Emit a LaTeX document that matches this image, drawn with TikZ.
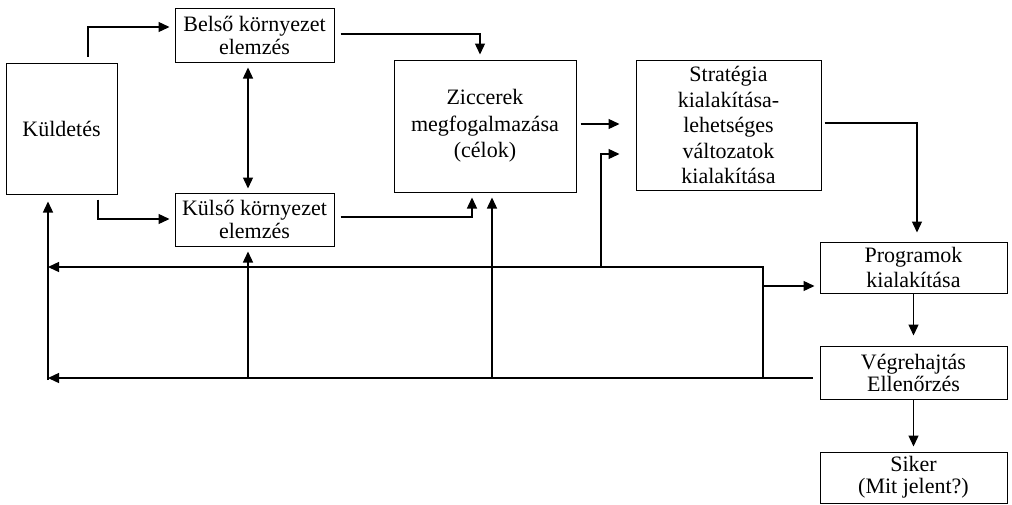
\documentclass[tikz,border=0pt]{standalone}
\usepackage{fontspec}
\setmainfont{Liberation Serif}
\usetikzlibrary{arrows.meta,calc}
\begin{document}
\begin{tikzpicture}[x=1pt,y=-1pt,
  box/.style={draw, line width=1pt, inner sep=0pt, align=center, font=\fontsize{22}{25.5}\selectfont},
  tight/.style={font=\fontsize{22}{23}\selectfont},
  ln/.style={line width=1.3pt},
  tip/.style={},
  arr/.style={ln, -{Triangle[length=11pt,width=10pt]}},
  darr/.style={ln, {Triangle[length=11pt,width=10pt]}-{Triangle[length=11pt,width=10pt]}},
]
\useasboundingbox (0,0) rectangle (1012,504);
% boxes
\node[box, minimum width=111pt, minimum height=131pt] (kul) at (61.5,128.5) {Küldetés};
\node[box, tight, minimum width=159pt, minimum height=54pt] (bel) at (254.5,35) {Belső környezet\\elemzés};
\node[box, tight, minimum width=159pt, minimum height=53pt] (kuls) at (254.5,219.5) {Külső környezet\\elemzés};
\node[box, font=\fontsize{22}{26.5}\selectfont, minimum width=182pt, minimum height=132pt] (zic) at (485,126) {Ziccerek\\megfogalmazása\\(célok)};
\node[box, minimum width=185pt, minimum height=130pt] (str) at (728.5,125) {Stratégia\\kialakítása-\\lehetséges\\változatok\\kialakítása};
\node[box, font=\fontsize{22}{25}\selectfont, minimum width=187pt, minimum height=51pt] (prog) at (913.5,267.5) {Programok\\kialakítása};
\node[box, font=\fontsize{22}{22}\selectfont, minimum width=187pt, minimum height=53pt] (vegr) at (913.5,372.5) {Végrehajtás\\Ellenőrzés};
\node[box, font=\fontsize{22}{22}\selectfont, minimum width=187pt, minimum height=51pt] (sik) at (913.5,477.5) {Siker\\(Mit jelent?)};
% helper coordinates
\coordinate (t1) at (88,27);
\coordinate (t2) at (480,34);
\coordinate (t3) at (98,219);
\coordinate (t4) at (472,217);
\coordinate (t5) at (0,124);
\coordinate (t6) at (917,123);
\coordinate (fbL) at (48,378);
\coordinate (fbM) at (48,267);
\coordinate (fbR) at (763,378);
\coordinate (pb) at (763,286);
\coordinate (sb) at (601,267);
\coordinate (sbt) at (601,154);
\coordinate (zb) at (492,378);
\coordinate (kb) at (248,378);
% forward connectors
\draw[arr, shorten <=6pt, shorten >=5pt] (kul.north -| t1) |- (bel.west |- t1);
\draw[arr, shorten <=6pt, shorten >=5pt] (bel.east |- t2) -| (zic.north -| t2);
\draw[darr, shorten <=5pt, shorten >=4pt] (bel.south -| kb) -- (kuls.north -| kb);
\draw[arr, shorten <=5pt, shorten >=5pt] (kul.south -| t3) |- (kuls.west |- t3);
\draw[arr, shorten <=6pt, shorten >=5pt] (kuls.east |- t4) -| (zic.south -| t4);
\draw[arr, shorten <=4pt, shorten >=16pt] (zic.east |- t5) -- (str.west |- t5);
\draw[arr, shorten <=3pt, shorten >=9pt] (str.east |- t6) -| (prog.north -| t6);
\draw[arr, shorten >=10pt] (prog.south) -- (vegr.north);
\draw[arr, shorten >=5pt] (vegr.south) -- (sik.north);
% feedback connectors
\draw[arr, shorten <=7pt] (vegr.west |- fbL) -- (fbL);
\draw[arr] (fbR) |- (fbM);
\draw[arr, shorten >=7pt] ([yshift=-2pt]fbL) -- (kul.south -| fbL);
\draw[arr, shorten >=5pt] (pb) -- (prog.west |- pb);
\draw[arr, shorten >=16pt] (sb) |- (str.west |- sbt);
\draw[arr, shorten >=5pt] (zb) -- (zic.south -| zb);
\draw[arr, shorten >=5pt] (kb) -- (kuls.south -| kb);
\end{tikzpicture}
\end{document}
